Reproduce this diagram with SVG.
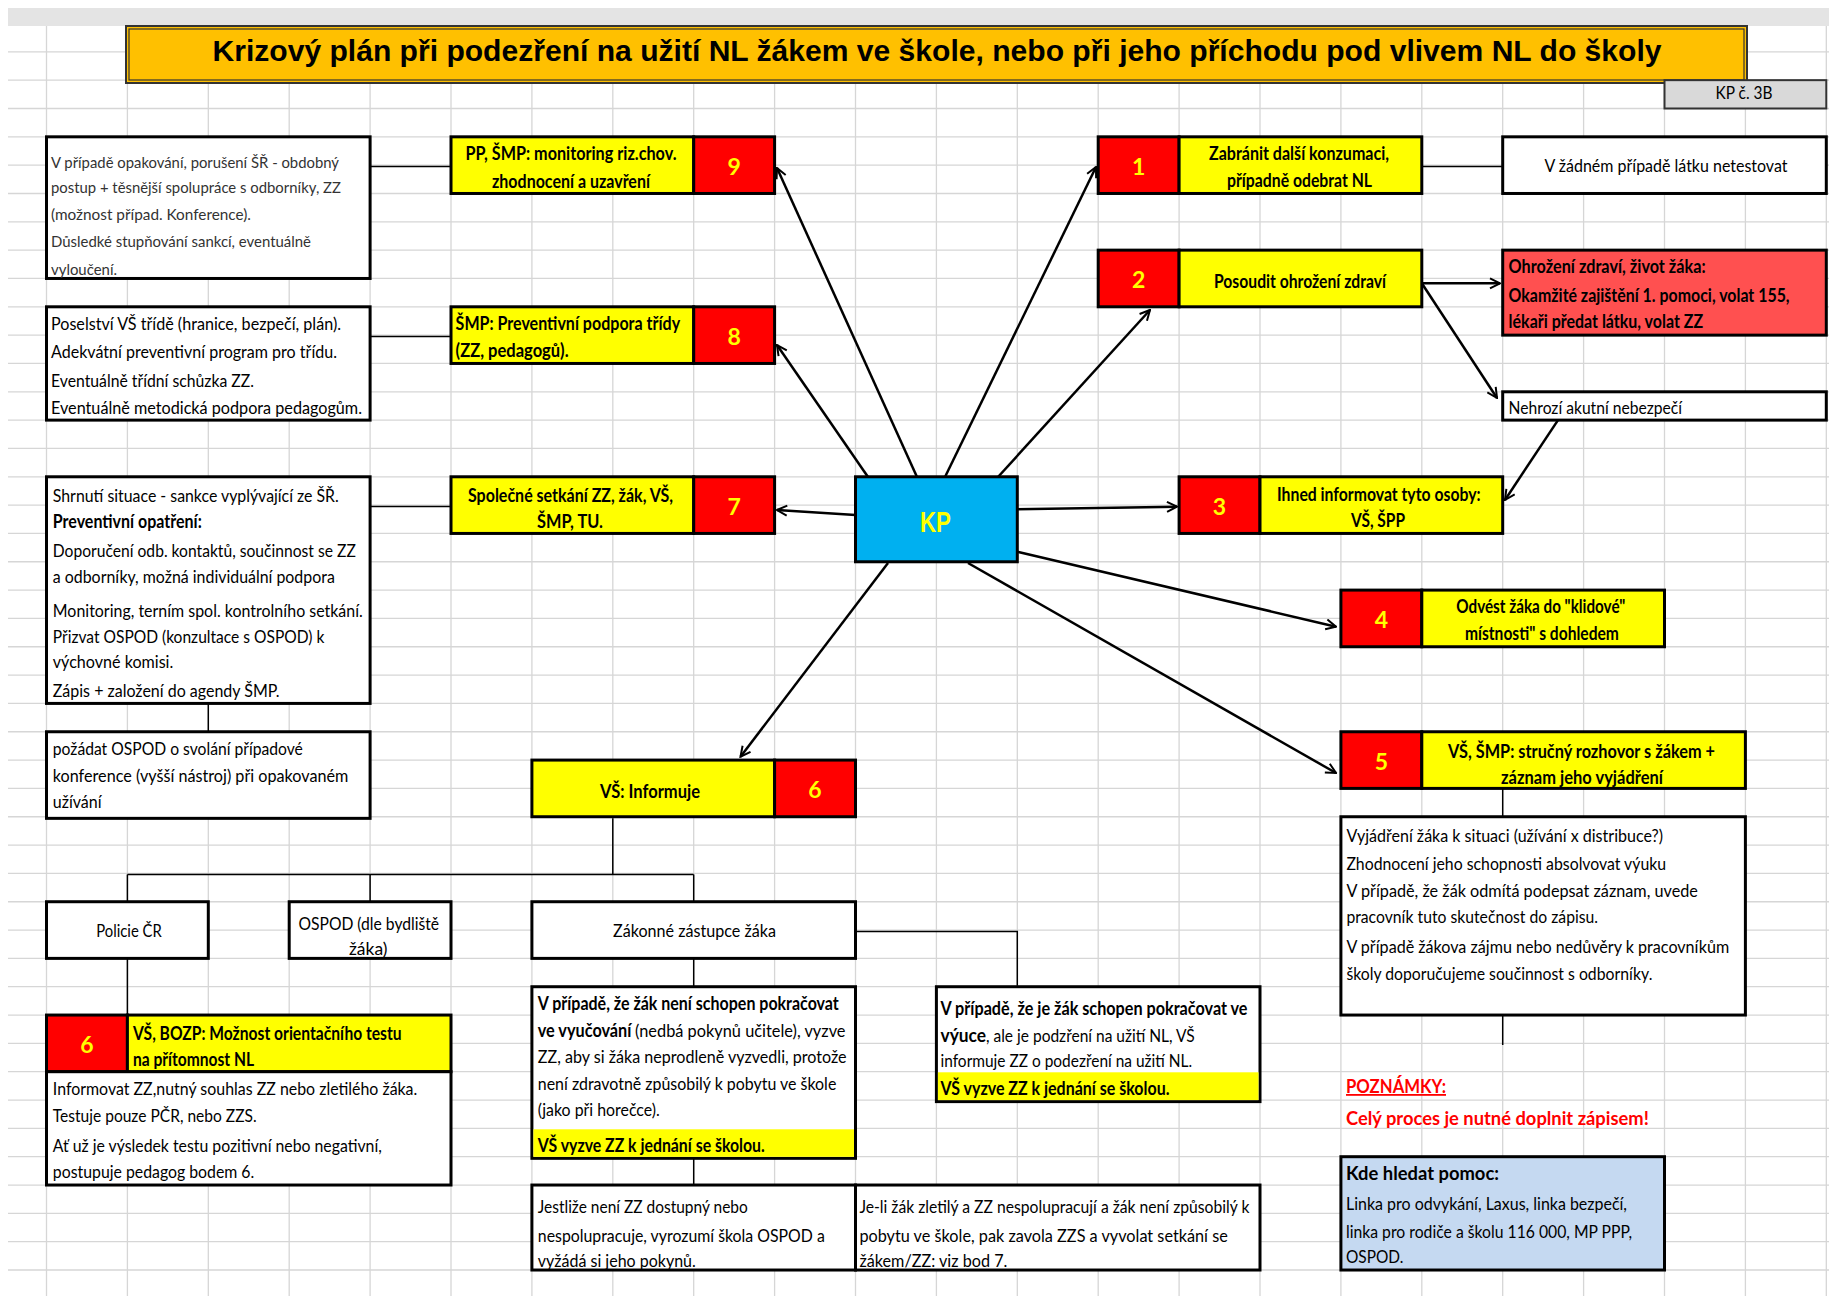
<svg xmlns="http://www.w3.org/2000/svg" width="1829" height="1296" viewBox="0 0 1829 1296">
  <defs>
    <marker id="arr" viewBox="0 0 10 10" refX="9" refY="5" markerWidth="5" markerHeight="5" orient="auto" markerUnits="strokeWidth">
      <path d="M1,1 L9,5 L1,9" fill="none" stroke="#000" stroke-width="1.6" stroke-linejoin="miter"/>
    </marker>
    <style>
      .grid{stroke:#d6d6d6;stroke-width:1.3;fill:none}
      .box{stroke:#000;stroke-width:3}
      .yel{fill:#ffff00}
      .red{fill:#ff0000}
      .wht{fill:#ffffff}
      .t{font-family:Lato,'Liberation Sans',sans-serif;font-size:18px;fill:#000}
      .s{font-size:16px;fill:#333}
      .b{font-weight:bold}
      .c{text-anchor:middle}
      .num{font-family:Lato,'Liberation Sans',sans-serif;font-size:23px;font-weight:bold;fill:#ffff00;text-anchor:middle}
      .ln{stroke:#000;stroke-width:1.5;fill:none}
      .ar{stroke:#000;stroke-width:2.5;fill:none;marker-end:url(#arr)}
      .note{fill:#ff0000;font-weight:bold}
    </style>
  </defs>

  <!-- sheet background and cell grid -->
  <rect x="0" y="0" width="1829" height="1296" fill="#fff"/>
  <rect x="8" y="8" width="1821" height="18" fill="#e4e4e4"/>
  <path class="grid" d="M8 51.83H1829M8 80.16H1829M8 108.49H1829M8 136.82H1829M8 165.15H1829M8 193.48H1829M8 221.81H1829M8 250.14H1829M8 278.47H1829M8 306.8H1829M8 335.13H1829M8 363.46H1829M8 391.79H1829M8 420.12H1829M8 448.45H1829M8 476.78H1829M8 505.11H1829M8 533.44H1829M8 561.77H1829M8 590.1H1829M8 618.43H1829M8 646.76H1829M8 675.09H1829M8 703.42H1829M8 731.75H1829M8 760.08H1829M8 788.41H1829M8 816.74H1829M8 845.07H1829M8 873.4H1829M8 901.73H1829M8 930.06H1829M8 958.39H1829M8 986.72H1829M8 1015.05H1829M8 1043.38H1829M8 1071.71H1829M8 1100.04H1829M8 1128.37H1829M8 1156.7H1829M8 1185.03H1829M8 1213.36H1829M8 1241.69H1829M8 1270.02H1829"/>
  <path class="grid" d="M46.5 26V1296M127.4 26V1296M208.3 26V1296M289.2 26V1296M370.1 26V1296M451 26V1296M531.9 26V1296M612.8 26V1296M693.7 26V1296M774.6 26V1296M855.5 26V1296M936.4 26V1296M1017.3 26V1296M1098.2 26V1296M1179.1 26V1296M1260 26V1296M1340.9 26V1296M1421.8 26V1296M1502.7 26V1296M1583.6 26V1296M1664.5 26V1296M1745.4 26V1296M1826.3 26V1296"/>

  <!-- title banner -->
  <g id="title">
    <rect x="126" y="26" width="1621" height="57" fill="#ffc000" stroke="#333" stroke-width="2"/>
    <rect x="129" y="29" width="1615" height="51" fill="none" stroke="#333" stroke-width="1.2"/>
    <text x="937" y="60.5" text-anchor="middle" font-family="'Liberation Sans',Arial,sans-serif" font-size="29" font-weight="bold" fill="#000" textLength="1449" lengthAdjust="spacingAndGlyphs">Krizový plán při podezření na užití NL žákem ve škole, nebo při jeho příchodu pod vlivem NL do školy</text>
  </g>
  <g id="plan-no">
    <rect x="1664.5" y="80.16" width="161.8" height="28.33" fill="#d9d9d9" stroke="#333" stroke-width="2"/>
    <text class="t c" x="1744" y="99" font-size="13" textLength="57" lengthAdjust="spacingAndGlyphs">KP č. 3B</text>
  </g>

  <!-- connectors -->
  <g id="connectors">
    <path class="ln" d="M370.1 166.5H451"/>
    <path class="ln" d="M370.1 336.5H451"/>
    <path class="ln" d="M370.1 506.5H451"/>
    <path class="ln" d="M208.3 703.42V731.75"/>
    <path class="ln" d="M1421.8 166.5H1502.7"/>
    <path class="ln" d="M1502.7 788.41V816.74"/>
    <path class="ln" d="M1502.7 1015.05V1045"/>
    <path class="ln" d="M612.8 818.3V874.5M127.4 874.5H693.7M127.4 874.5V901.73M370.1 874.5V901.73M693.7 874.5V901.73"/>
    <path class="ln" d="M127.4 958.39V1015.05"/>
    <path class="ln" d="M693.7 958.39V986.72"/>
    <path class="ln" d="M693.7 1158.3V1185.03"/>
    <path class="ln" d="M855.5 931.5H1017.3V985.7"/>

    <line class="ar" x1="917" y1="477" x2="777" y2="168"/>
    <line class="ar" x1="868" y1="477" x2="777" y2="345"/>
    <line class="ar" x1="855.5" y1="515" x2="777" y2="510"/>
    <line class="ar" x1="945" y1="477" x2="1096" y2="167"/>
    <line class="ar" x1="998" y1="477" x2="1150" y2="310"/>
    <line class="ar" x1="1017.3" y1="509.3" x2="1177" y2="506.7"/>
    <line class="ar" x1="1017.3" y1="551.7" x2="1336" y2="626.7"/>
    <line class="ar" x1="968" y1="563" x2="1336" y2="773"/>
    <line class="ar" x1="888" y1="563" x2="740.5" y2="756.7"/>
    <line class="ar" x1="1421.8" y1="283.3" x2="1500" y2="283.3"/>
    <line class="ar" x1="1421.8" y1="283.3" x2="1497" y2="398"/>
    <line class="ar" x1="1558" y1="420.12" x2="1505" y2="500"/>
  </g>

  <!-- left column notes -->
  <g id="note-9">
    <rect class="box wht" x="46.5" y="136.82" width="323.6" height="141.65"/>
    <text class="t s" x="51" y="168" textLength="288" lengthAdjust="spacingAndGlyphs">V případě opakování, porušení ŠŘ - obdobný</text>
    <text class="t s" x="51" y="193" textLength="290" lengthAdjust="spacingAndGlyphs">postup + těsnější spolupráce s odborníky, ZZ</text>
    <text class="t s" x="51" y="219.5" textLength="200" lengthAdjust="spacingAndGlyphs">(možnost případ. Konference).</text>
    <text class="t s" x="51" y="247" textLength="260" lengthAdjust="spacingAndGlyphs">Důsledké stupňování sankcí, eventuálně</text>
    <text class="t s" x="51" y="274.5" textLength="66" lengthAdjust="spacingAndGlyphs">vyloučení.</text>
  </g>
  <g id="note-8">
    <rect class="box wht" x="46.5" y="306.8" width="323.6" height="113.32"/>
    <text class="t" x="51" y="329.5" textLength="290" lengthAdjust="spacingAndGlyphs">Poselství VŠ třídě (hranice, bezpečí, plán).</text>
    <text class="t" x="51" y="358" textLength="286" lengthAdjust="spacingAndGlyphs">Adekvátní preventivní program pro třídu.</text>
    <text class="t" x="51" y="386.5" textLength="203" lengthAdjust="spacingAndGlyphs">Eventuálně třídní schůzka ZZ.</text>
    <text class="t" x="51" y="414" textLength="311" lengthAdjust="spacingAndGlyphs">Eventuálně metodická podpora pedagogům.</text>
  </g>
  <g id="note-7">
    <rect class="box wht" x="46.5" y="476.78" width="323.6" height="226.64"/>
    <text class="t" x="52.8" y="501.5" textLength="286" lengthAdjust="spacingAndGlyphs">Shrnutí situace - sankce vyplývající ze ŠŘ.</text>
    <text class="t b" x="52.8" y="528" textLength="149" lengthAdjust="spacingAndGlyphs">Preventivní opatření:</text>
    <text class="t" x="52.8" y="556.5" textLength="303" lengthAdjust="spacingAndGlyphs">Doporučení odb. kontaktů, součinnost se ZZ</text>
    <text class="t" x="52.8" y="583" textLength="282" lengthAdjust="spacingAndGlyphs">a odborníky, možná individuální podpora</text>
    <text class="t" x="52.8" y="616.5" textLength="310" lengthAdjust="spacingAndGlyphs">Monitoring, terním spol. kontrolního setkání.</text>
    <text class="t" x="52.8" y="642.5" textLength="271.5" lengthAdjust="spacingAndGlyphs">Přizvat OSPOD (konzultace s OSPOD) k</text>
    <text class="t" x="52.8" y="668" textLength="120.5" lengthAdjust="spacingAndGlyphs">výchovné komisi.</text>
    <text class="t" x="52.8" y="697" textLength="226.7" lengthAdjust="spacingAndGlyphs">Zápis + založení do agendy ŠMP.</text>
  </g>
  <g id="note-ospod">
    <rect class="box wht" x="46.5" y="731.75" width="323.6" height="86.6"/>
    <text class="t" x="52.8" y="755" textLength="250" lengthAdjust="spacingAndGlyphs">požádat OSPOD o svolání případové</text>
    <text class="t" x="52.8" y="781.5" textLength="295.6" lengthAdjust="spacingAndGlyphs">konference (vyšší nástroj) při opakovaném</text>
    <text class="t" x="52.8" y="808" textLength="48.8" lengthAdjust="spacingAndGlyphs">užívání</text>
  </g>

  <!-- numbered steps, left side -->
  <g id="step-9">
    <rect class="box yel" x="451" y="136.82" width="242.7" height="56.66"/>
    <rect class="box red" x="693.7" y="136.82" width="80.9" height="56.66"/>
    <text class="t b c" x="571" y="160" textLength="211" lengthAdjust="spacingAndGlyphs">PP, ŠMP: monitoring riz.chov.</text>
    <text class="t b c" x="571" y="188" textLength="158" lengthAdjust="spacingAndGlyphs">zhodnocení a uzavření</text>
    <text class="num" x="734.2" y="175">9</text>
  </g>
  <g id="step-8">
    <rect class="box yel" x="451" y="306.8" width="242.7" height="56.66"/>
    <rect class="box red" x="693.7" y="306.8" width="80.9" height="56.66"/>
    <text class="t b" x="455.6" y="329.5" textLength="224.5" lengthAdjust="spacingAndGlyphs">ŠMP: Preventivní podpora třídy</text>
    <text class="t b" x="455.6" y="356.5" textLength="113" lengthAdjust="spacingAndGlyphs">(ZZ, pedagogů).</text>
    <text class="num" x="734.2" y="344.8">8</text>
  </g>
  <g id="step-7">
    <rect class="box yel" x="451" y="476.78" width="242.7" height="56.66"/>
    <rect class="box red" x="693.7" y="476.78" width="80.9" height="56.66"/>
    <text class="t b c" x="570.5" y="501.5" textLength="205" lengthAdjust="spacingAndGlyphs">Společné setkání ZZ, žák, VŠ,</text>
    <text class="t b c" x="570" y="528" textLength="66" lengthAdjust="spacingAndGlyphs">ŠMP, TU.</text>
    <text class="num" x="734.2" y="514.8">7</text>
  </g>
  <g id="step-6">
    <rect class="box yel" x="531.9" y="760.08" width="242.7" height="56.66"/>
    <rect class="box red" x="774.6" y="760.08" width="80.9" height="56.66"/>
    <text class="t b c" x="650" y="798" textLength="100" lengthAdjust="spacingAndGlyphs">VŠ: Informuje</text>
    <text class="num" x="815" y="798">6</text>
  </g>

  <!-- central node -->
  <g id="kp">
    <rect class="box" x="855.5" y="476.78" width="161.8" height="85" fill="#00b0f0"/>
    <text x="935.5" y="531.5" text-anchor="middle" font-family="'Liberation Sans',Arial,sans-serif" font-size="30" font-weight="bold" fill="#ffff00" textLength="31" lengthAdjust="spacingAndGlyphs">KP</text>
  </g>

  <!-- numbered steps, right side -->
  <g id="step-1">
    <rect class="box red" x="1098.2" y="136.82" width="80.9" height="56.66"/>
    <rect class="box yel" x="1179.1" y="136.82" width="242.7" height="56.66"/>
    <text class="num" x="1138.6" y="175">1</text>
    <text class="t b c" x="1299" y="160" textLength="180" lengthAdjust="spacingAndGlyphs">Zabránit další konzumaci,</text>
    <text class="t b c" x="1299.5" y="186.5" textLength="145" lengthAdjust="spacingAndGlyphs">případně odebrat NL</text>
  </g>
  <g id="no-test">
    <rect class="box wht" x="1502.7" y="136.82" width="323.6" height="56.66"/>
    <text class="t c" x="1666" y="172" fill="#222" textLength="243" lengthAdjust="spacingAndGlyphs">V žádném případě látku netestovat</text>
  </g>
  <g id="step-2">
    <rect class="box red" x="1098.2" y="250.14" width="80.9" height="56.66"/>
    <rect class="box yel" x="1179.1" y="250.14" width="242.7" height="56.66"/>
    <text class="num" x="1138.6" y="288">2</text>
    <text class="t b c" x="1300" y="288" textLength="172" lengthAdjust="spacingAndGlyphs">Posoudit ohrožení zdraví</text>
  </g>
  <g id="danger">
    <rect class="box" x="1502.7" y="250.14" width="323.6" height="85" fill="#ff5050"/>
    <text class="t b" x="1508.6" y="273" textLength="197" lengthAdjust="spacingAndGlyphs">Ohrožení zdraví, život žáka:</text>
    <text class="t b" x="1508.6" y="301.5" textLength="281" lengthAdjust="spacingAndGlyphs">Okamžité zajištění 1. pomoci, volat 155,</text>
    <text class="t b" x="1508.6" y="328" textLength="194.5" lengthAdjust="spacingAndGlyphs">lékaři předat látku, volat ZZ</text>
  </g>
  <g id="no-danger">
    <rect class="box wht" x="1502.7" y="391.79" width="323.6" height="28.33"/>
    <text class="t" x="1508.6" y="413.5" textLength="173.4" lengthAdjust="spacingAndGlyphs">Nehrozí akutní nebezpečí</text>
  </g>
  <g id="step-3">
    <rect class="box red" x="1179.1" y="476.78" width="80.9" height="56.66"/>
    <rect class="box yel" x="1260" y="476.78" width="242.7" height="56.66"/>
    <text class="num" x="1219.5" y="514.8">3</text>
    <text class="t b c" x="1378.8" y="501" textLength="203.5" lengthAdjust="spacingAndGlyphs">Ihned informovat tyto osoby:</text>
    <text class="t b c" x="1378" y="526.5" textLength="54" lengthAdjust="spacingAndGlyphs">VŠ, ŠPP</text>
  </g>
  <g id="step-4">
    <rect class="box red" x="1340.9" y="590.1" width="80.9" height="56.66"/>
    <rect class="box yel" x="1421.8" y="590.1" width="242.7" height="56.66"/>
    <text class="num" x="1381.3" y="628">4</text>
    <text class="t b c" x="1540.8" y="613" textLength="169" lengthAdjust="spacingAndGlyphs">Odvést žáka do "klidové"</text>
    <text class="t b c" x="1541.9" y="640" textLength="154" lengthAdjust="spacingAndGlyphs">místnosti" s dohledem</text>
  </g>
  <g id="step-5">
    <rect class="box red" x="1340.9" y="731.75" width="80.9" height="56.66"/>
    <rect class="box yel" x="1421.8" y="731.75" width="323.6" height="56.66"/>
    <text class="num" x="1381.3" y="769.7">5</text>
    <text class="t b c" x="1581.5" y="758" textLength="267" lengthAdjust="spacingAndGlyphs">VŠ, ŠMP: stručný rozhovor s žákem +</text>
    <text class="t b c" x="1582" y="783.5" textLength="162" lengthAdjust="spacingAndGlyphs">záznam jeho vyjádření</text>
  </g>
  <g id="statement">
    <rect class="box wht" x="1340.9" y="816.74" width="404.5" height="198.31"/>
    <text class="t" x="1346.4" y="841.5" textLength="316.6" lengthAdjust="spacingAndGlyphs">Vyjádření žáka k situaci (užívání x distribuce?)</text>
    <text class="t" x="1346.4" y="870" textLength="319.7" lengthAdjust="spacingAndGlyphs">Zhodnocení jeho schopnosti absolvovat výuku</text>
    <text class="t" x="1346.4" y="896.5" textLength="351.5" lengthAdjust="spacingAndGlyphs">V případě, že žák odmítá podepsat záznam, uvede</text>
    <text class="t" x="1346.4" y="923" textLength="251.6" lengthAdjust="spacingAndGlyphs">pracovník tuto skutečnost do zápisu.</text>
    <text class="t" x="1346.4" y="953" textLength="382.8" lengthAdjust="spacingAndGlyphs">V případě žákova zájmu nebo nedůvěry k pracovníkům</text>
    <text class="t" x="1346.4" y="980" textLength="306" lengthAdjust="spacingAndGlyphs">školy doporučujeme součinnost s odborníky.</text>
  </g>

  <!-- parties informed in step 6 -->
  <g id="police">
    <rect class="box wht" x="46.5" y="901.73" width="161.8" height="56.66"/>
    <text class="t c" x="129" y="936.5" textLength="65.5" lengthAdjust="spacingAndGlyphs">Policie ČR</text>
  </g>
  <g id="ospod">
    <rect class="box wht" x="289.2" y="901.73" width="161.8" height="56.66"/>
    <text class="t c" x="368.8" y="930" textLength="140.6" lengthAdjust="spacingAndGlyphs">OSPOD (dle bydliště</text>
    <text class="t c" x="368.2" y="955" textLength="38.5" lengthAdjust="spacingAndGlyphs">žáka)</text>
  </g>
  <g id="guardians">
    <rect class="box wht" x="531.9" y="901.73" width="323.6" height="56.66"/>
    <text class="t c" x="694.5" y="936.5" textLength="163" lengthAdjust="spacingAndGlyphs">Zákonné zástupce žáka</text>
  </g>
  <g id="step-6-test">
    <rect class="box red" x="46.5" y="1015.05" width="80.9" height="56.66"/>
    <rect class="box yel" x="127.4" y="1015.05" width="323.6" height="56.66"/>
    <text class="num" x="87" y="1053">6</text>
    <text class="t b" x="133" y="1040" textLength="268.6" lengthAdjust="spacingAndGlyphs">VŠ, BOZP: Možnost orientačního testu</text>
    <text class="t b" x="133" y="1066" textLength="121" lengthAdjust="spacingAndGlyphs">na přítomnost NL</text>
  </g>
  <g id="test-note">
    <rect class="box wht" x="46.5" y="1071.71" width="404.5" height="113.32"/>
    <text class="t" x="52.8" y="1095" textLength="364.5" lengthAdjust="spacingAndGlyphs">Informovat ZZ,nutný souhlas ZZ nebo zletilého žáka.</text>
    <text class="t" x="52.8" y="1121.5" textLength="203.8" lengthAdjust="spacingAndGlyphs">Testuje pouze PČR, nebo ZZS.</text>
    <text class="t" x="52.8" y="1151.5" textLength="329" lengthAdjust="spacingAndGlyphs">Ať už je výsledek testu pozitivní nebo negativní,</text>
    <text class="t" x="52.8" y="1178" textLength="201.5" lengthAdjust="spacingAndGlyphs">postupuje pedagog bodem 6.</text>
  </g>
  <g id="unable">
    <rect class="box wht" x="531.9" y="986.72" width="323.6" height="171.6"/>
    <rect class="yel" x="533.4" y="1129.3" width="320.6" height="27.5"/>
    <text class="t b" x="537.8" y="1009.5" textLength="301" lengthAdjust="spacingAndGlyphs">V případě, že žák není schopen pokračovat</text>
    <text class="t b" x="537.8" y="1036.5" textLength="93.6" lengthAdjust="spacingAndGlyphs">ve vyučování</text>
    <text class="t" x="635" y="1036.5" textLength="210.5" lengthAdjust="spacingAndGlyphs">(nedbá pokynů učitele), vyzve</text>
    <text class="t" x="537.8" y="1063" textLength="308.8" lengthAdjust="spacingAndGlyphs">ZZ, aby si žáka neprodleně vyzvedli, protože</text>
    <text class="t" x="537.8" y="1090" textLength="298.5" lengthAdjust="spacingAndGlyphs">není zdravotně způsobilý k pobytu ve škole</text>
    <text class="t" x="537.8" y="1116" textLength="122" lengthAdjust="spacingAndGlyphs">(jako při horečce).</text>
    <text class="t b" x="537.8" y="1151.5" textLength="227" lengthAdjust="spacingAndGlyphs">VŠ vyzve ZZ k jednání se školou.</text>
  </g>
  <g id="able">
    <rect class="box wht" x="936.4" y="986.72" width="323.6" height="114.9"/>
    <rect class="yel" x="937.9" y="1072.3" width="320.6" height="27.8"/>
    <text class="t b" x="940.5" y="1015" textLength="307" lengthAdjust="spacingAndGlyphs">V případě, že je žák schopen pokračovat ve</text>
    <text class="t b" x="940.5" y="1041.5" textLength="45.6" lengthAdjust="spacingAndGlyphs">výuce</text>
    <text class="t" x="986" y="1041.5" textLength="208.7" lengthAdjust="spacingAndGlyphs">, ale je podzření na užití NL, VŠ</text>
    <text class="t" x="940.5" y="1067" textLength="251.6" lengthAdjust="spacingAndGlyphs">informuje ZZ o podezření na užití NL.</text>
    <text class="t b" x="940.5" y="1095" textLength="229" lengthAdjust="spacingAndGlyphs">VŠ vyzve ZZ k jednání se školou.</text>
  </g>
  <g id="unavailable">
    <rect class="box wht" x="531.9" y="1185.03" width="323.6" height="84.99"/>
    <text class="t" x="537.8" y="1213" textLength="210" lengthAdjust="spacingAndGlyphs">Jestliže není ZZ dostupný nebo</text>
    <text class="t" x="537.8" y="1241.5" textLength="287" lengthAdjust="spacingAndGlyphs">nespolupracuje, vyrozumí škola OSPOD a</text>
    <text class="t" x="537.8" y="1267" textLength="158" lengthAdjust="spacingAndGlyphs">vyžádá si jeho pokynů.</text>
  </g>
  <g id="adult">
    <rect class="box wht" x="855.5" y="1185.03" width="404.5" height="84.99"/>
    <text class="t" x="859.4" y="1213" textLength="390" lengthAdjust="spacingAndGlyphs">Je-li žák zletilý a ZZ nespolupracují a žák není způsobilý k</text>
    <text class="t" x="859.4" y="1241.5" textLength="368.4" lengthAdjust="spacingAndGlyphs">pobytu ve škole, pak zavola ZZS a vyvolat setkání se</text>
    <text class="t" x="859.4" y="1267" textLength="148" lengthAdjust="spacingAndGlyphs">žákem/ZZ: viz bod 7.</text>
  </g>

  <!-- notes and help -->
  <g id="notes">
    <text class="t note" x="1346" y="1093" text-decoration="underline" textLength="100" lengthAdjust="spacingAndGlyphs">POZNÁMKY:</text>
    <text class="t note" x="1346" y="1125" textLength="302.8" lengthAdjust="spacingAndGlyphs">Celý proces je nutné doplnit zápisem!</text>
  </g>
  <g id="help">
    <rect class="box" x="1340.9" y="1156.7" width="323.6" height="113.32" fill="#c5d9f1"/>
    <text class="t b" x="1346" y="1180" textLength="153" lengthAdjust="spacingAndGlyphs">Kde hledat pomoc:</text>
    <text class="t" x="1346" y="1210" textLength="281" lengthAdjust="spacingAndGlyphs">Linka pro odvykání, Laxus, linka bezpečí,</text>
    <text class="t" x="1346" y="1238" textLength="286" lengthAdjust="spacingAndGlyphs">linka pro rodiče a školu 116 000, MP PPP,</text>
    <text class="t" x="1346" y="1263" textLength="57.4" lengthAdjust="spacingAndGlyphs">OSPOD.</text>
  </g>
</svg>
